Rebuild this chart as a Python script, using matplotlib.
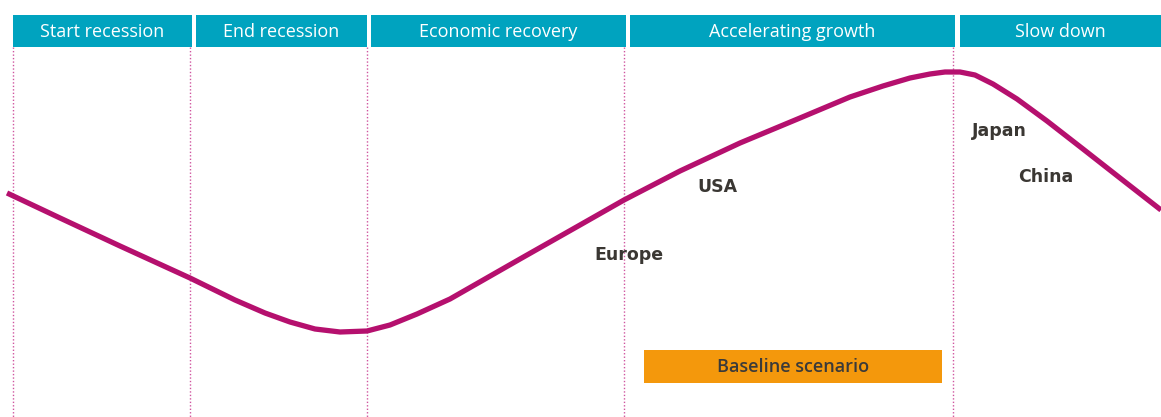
import matplotlib
matplotlib.use('Agg')
from matplotlib import pyplot as plt
from matplotlib.patches import Rectangle

# phases (header boxes) - left/right edges in picture units
phases = ['Start recession', 'End recession', 'Economic recovery',
          'Accelerating growth', 'Slow down']
phase_left = [13, 196, 371, 630, 960]
phase_right = [192, 367, 626, 955, 1161]
dividers = [13, 190, 367, 624, 953]

# business cycle curve
cycle_x = [7, 60, 120, 190, 235, 265, 290, 315, 340, 367, 390, 417, 450, 520,
           580, 624, 680, 740, 800, 850, 883, 910, 930, 945, 960, 975, 993,
           1017, 1047, 1083, 1120, 1161]
cycle_y = [193, 218, 246, 278, 300, 313, 322, 329, 332, 331, 325, 314, 299, 259,
           225, 200, 171, 143, 118, 97, 86, 78, 74, 72, 72, 75, 84,
           99, 121, 149, 178, 210]

regions = ['USA', 'Europe', 'Japan', 'China']
region_x = [717, 629, 999, 1046]
region_y = [187, 255, 131, 177]

teal = '#00a3bf'
magenta = '#b5106e'

fig = plt.figure(figsize=(11.61, 4.17), dpi=100)
ax = fig.add_axes([0, 0, 1, 1])
ax.set_xlim(0, 1161)
ax.set_ylim(417, 0)
ax.axis('off')

for name, l, r in zip(phases, phase_left, phase_right):
    ax.add_patch(Rectangle((l, 15), r - l, 32, color=teal, lw=0))
    ax.text((l + r) / 2, 32, name, color='white', fontsize=13,
            family='Open Sans', ha='center', va='center')

for x in dividers:
    ax.plot([x, x], [47, 417], color='#d0559f', lw=1, ls=(0, (1, 1.5)))

ax.plot(cycle_x, cycle_y, color=magenta, lw=3.8, solid_capstyle='butt',
        solid_joinstyle='round')

for name, x, y in zip(regions, region_x, region_y):
    ax.text(x, y, name, color='#3a3733', fontsize=12.5, weight='bold',
            family='DejaVu Sans', ha='center', va='center')

ax.add_patch(Rectangle((644, 350), 298, 33, color='#f4980c', lw=0))
ax.text(793, 367, 'Baseline scenario', color='#3a3a3a', fontsize=13,
        weight='semibold', family='Open Sans', ha='center', va='center')

fig.savefig('out.png', dpi=100)
